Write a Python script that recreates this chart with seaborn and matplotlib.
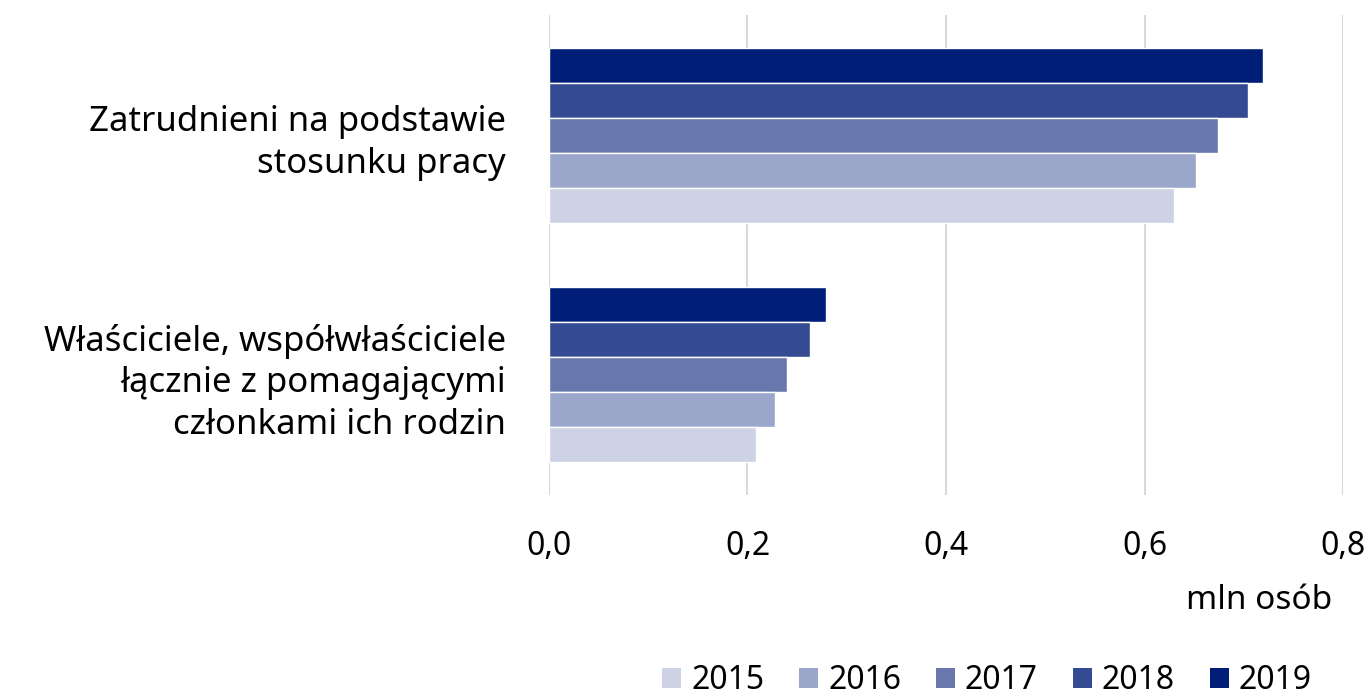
import pandas as pd
import seaborn as sns
import matplotlib.pyplot as plt
from matplotlib.patches import Patch

# data (mln osób)
categories = ["Zatrudnieni na podstawie\nstosunku pracy",
              "Właściciele, współwłaściciele\nłącznie z pomagającymi\nczłonkami ich rodzin"]
years = ["2015", "2016", "2017", "2018", "2019"]
employed = [0.630, 0.652, 0.674, 0.704, 0.719]
owners = [0.209, 0.228, 0.240, 0.263, 0.279]
colors = ["#CDD3E5", "#9AA7CA", "#6878AD", "#344B93", "#001E78"]

rows = []
for y, a, b in zip(years, employed, owners):
    rows.append({"kategoria": categories[0], "rok": y, "wartosc": a})
    rows.append({"kategoria": categories[1], "rok": y, "wartosc": b})
df = pd.DataFrame(rows)

sns.set_style("white")
plt.rcParams["font.family"] = ["Noto Sans", "DejaVu Sans"]
plt.rcParams["text.color"] = "black"
plt.rcParams["xtick.color"] = "black"
plt.rcParams["ytick.color"] = "black"

fig = plt.figure(figsize=(13.71, 6.96), dpi=100)
ax = fig.add_axes([0.4004, 0.289, 0.5792, 0.689])

# 2019 drawn on top inside each group
palette = dict(zip(years, colors))
sns.barplot(data=df, x="wartosc", y="kategoria", hue="rok",
            hue_order=years[::-1], palette=palette, width=0.73,
            saturation=1, legend=False, ax=ax)

ax.set_xlim(0, 0.8)
ax.set_ylim(1.5, -0.5)
ax.set_xticks([0, 0.2, 0.4, 0.6, 0.8])
ax.set_xticklabels(["0,0", "0,2", "0,4", "0,6", "0,8"], fontsize=23)
ax.set_yticks([0, 1])
ax.set_yticklabels(categories, fontsize=25, multialignment="right",
                   linespacing=1.3)
ax.tick_params(axis="both", length=0)
ax.tick_params(axis="x", pad=25)
ax.tick_params(axis="y", pad=31)
ax.set_xlabel("")
ax.set_ylabel("")
ax.grid(axis="x", color="#D9D9D9", linewidth=1.5)
ax.set_axisbelow(True)
for s in ax.spines.values():
    s.set_visible(False)

fig.text(0.972, 0.137, "mln osób", fontsize=24, ha="right", va="center")

handles = [Patch(facecolor=c, edgecolor="none") for c in colors]
fig.legend(handles, years, loc="center", bbox_to_anchor=(0.72, 0.022),
           ncol=5, frameon=False, fontsize=23, handlelength=0.6,
           handleheight=0.6, handletextpad=0.3, columnspacing=1.1)

fig.savefig("out.png", dpi=100)
